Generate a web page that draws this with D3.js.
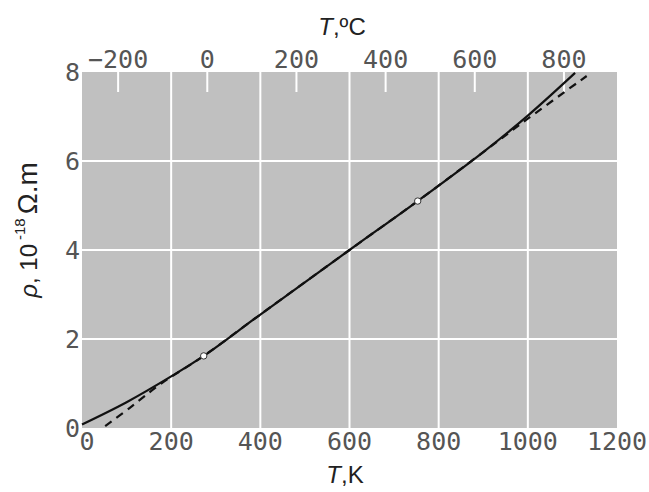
<!DOCTYPE html>
<html>
<head>
<meta charset="utf-8">
<script src="https://cdnjs.cloudflare.com/ajax/libs/d3/7.8.5/d3.min.js"></script>
<style>
  body { margin: 0; background: #fff; }
  .tick-lbl { font-family: "DejaVu Sans Mono", monospace; font-size: 25px; fill: #555; }
  .ttl { font-family: "Liberation Sans", Arial, sans-serif; font-size: 24px; fill: #222; }
</style>
</head>
<body>
<svg id="chart" width="649" height="492"></svg>
<script>
// temperature in K and resistivity in 10^-18 ohm.m
var solidT = [0, 100, 200, 273, 400, 600, 753, 900, 1000, 1106];
var solidRho = [0.08, 0.58, 1.16, 1.62, 2.55, 4.0, 5.1, 6.2, 7.02, 7.98];
var dashT = [52, 108, 175, 273, 400, 600, 753, 900, 1000, 1132];
var dashRho = [0.04, 0.46, 0.98, 1.62, 2.55, 4.0, 5.1, 6.2, 6.95, 7.91];
var pointT = [273, 753];
var pointRho = [1.62, 5.1];

var kTicks = [0, 200, 400, 600, 800, 1000, 1200];
var cTicks = [-200, 0, 200, 400, 600, 800];
var rhoTicks = [0, 2, 4, 6, 8];
var cOffset = 281; // where 0 C lands on the K axis in the picture

var svg = d3.select("#chart");
var pLeft = 82, pRight = 617, pTop = 72, pBottom = 428;

var x = d3.scaleLinear().domain([0, 1200]).range([pLeft, pRight]);
var xc = d3.scaleLinear().domain([-cOffset, 1200 - cOffset]).range([pLeft, pRight]);
var y = d3.scaleLinear().domain([0, 8]).range([pBottom, pTop]);

svg.append("rect")
    .attr("x", pLeft).attr("y", pTop)
    .attr("width", pRight - pLeft).attr("height", pBottom - pTop)
    .attr("fill", "#c0c0c0");

// grid
svg.append("g").selectAll("line")
    .data(kTicks.filter(function(d) { return d > 0 && d < 1200; }))
    .enter().append("line")
    .attr("x1", function(d) { return x(d); }).attr("x2", function(d) { return x(d); })
    .attr("y1", pTop).attr("y2", pBottom)
    .attr("stroke", "#fff").attr("stroke-width", 2);

svg.append("g").selectAll("line")
    .data(rhoTicks.filter(function(d) { return d > 0 && d < 8; }))
    .enter().append("line")
    .attr("x1", pLeft).attr("x2", pRight)
    .attr("y1", function(d) { return y(d); }).attr("y2", function(d) { return y(d); })
    .attr("stroke", "#fff").attr("stroke-width", 2);

// short white ticks of the celsius scale
svg.append("g").selectAll("line")
    .data(cTicks)
    .enter().append("line")
    .attr("x1", function(d) { return xc(d); }).attr("x2", function(d) { return xc(d); })
    .attr("y1", pTop).attr("y2", pTop + 20)
    .attr("stroke", "#fff").attr("stroke-width", 2);

// curves
var solidData = solidT.map(function(t, i) { return [t, solidRho[i]]; });
var dashData = dashT.map(function(t, i) { return [t, dashRho[i]]; });
var line = d3.line()
    .x(function(d) { return x(d[0]); })
    .y(function(d) { return y(d[1]); })
    .curve(d3.curveCatmullRom.alpha(0.5));

svg.append("path")
    .attr("d", line(dashData))
    .attr("fill", "none").attr("stroke", "#111")
    .attr("stroke-width", 2.2).attr("stroke-dasharray", "8,6");

svg.append("path")
    .attr("d", line(solidData))
    .attr("fill", "none").attr("stroke", "#111")
    .attr("stroke-width", 2.2);

svg.append("g").selectAll("circle")
    .data(pointT)
    .enter().append("circle")
    .attr("cx", function(d) { return x(d); })
    .attr("cy", function(d, i) { return y(pointRho[i]); })
    .attr("r", 3.2)
    .attr("fill", "#fff").attr("stroke", "#333").attr("stroke-width", 1);

// tick labels
svg.append("g").selectAll("text")
    .data(kTicks)
    .enter().append("text")
    .attr("class", "tick-lbl")
    .attr("x", function(d) { return x(d) + (d == 0 ? 5 : 0); })
    .attr("y", 450)
    .attr("text-anchor", "middle")
    .text(function(d) { return d; });

svg.append("g").selectAll("text")
    .data(cTicks)
    .enter().append("text")
    .attr("class", "tick-lbl")
    .attr("x", function(d) { return xc(d); })
    .attr("y", 68)
    .attr("text-anchor", "middle")
    .text(function(d) { return d < 0 ? "\u2212" + (-d) : d; });

svg.append("g").selectAll("text")
    .data(rhoTicks)
    .enter().append("text")
    .attr("class", "tick-lbl")
    .attr("x", 80)
    .attr("y", function(d) { return y(d) + 9; })
    .attr("text-anchor", "end")
    .text(function(d) { return d; });

// axis titles
var tc = svg.append("text").attr("class", "ttl")
    .attr("x", 342).attr("y", 35).attr("text-anchor", "middle");
tc.append("tspan").attr("font-style", "italic").text("T");
tc.append("tspan").text(",\u00baC");

var tk = svg.append("text").attr("class", "ttl")
    .attr("x", 345).attr("y", 483).attr("text-anchor", "middle");
tk.append("tspan").attr("font-style", "italic").text("T");
tk.append("tspan").text(",K");

var ty = svg.append("text").attr("class", "ttl")
    .attr("transform", "translate(37,230) rotate(-90)")
    .attr("text-anchor", "middle")
    .attr("font-size", "26px");
ty.append("tspan").attr("font-style", "italic").text("\u03c1");
ty.append("tspan").text(", 10");
ty.append("tspan").attr("font-size", "15px").attr("dy", -12).attr("dx", 4).text("-18");
ty.append("tspan").attr("font-size", "28px").attr("dy", 12).attr("dx", 4).text("\u03a9.m");
</script>
</body>
</html>
